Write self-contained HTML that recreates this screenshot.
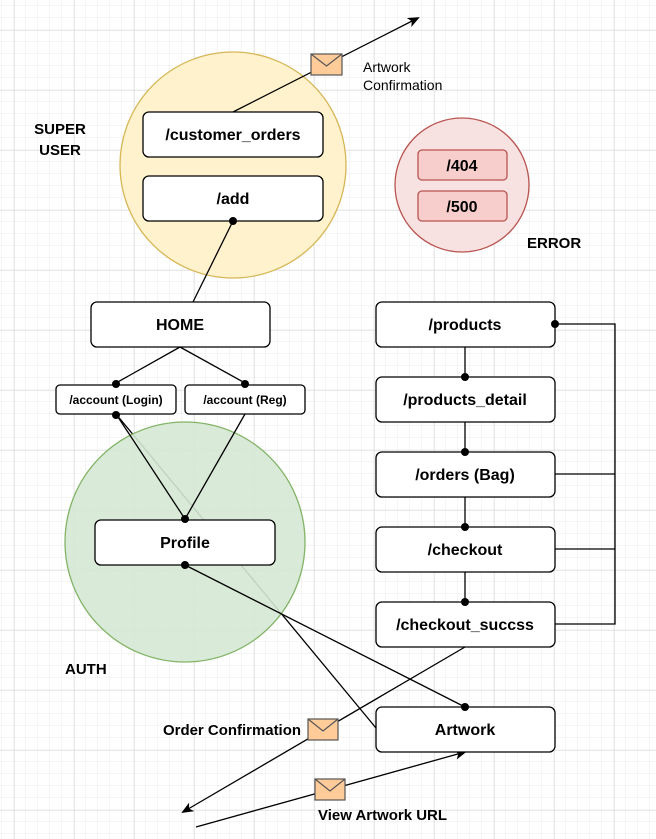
<!DOCTYPE html>
<html><head><meta charset="utf-8"><style>
html,body{margin:0;padding:0;background:#fff}
svg{display:block}
text{font-family:"Liberation Sans",Arial,sans-serif}
</style></head><body>
<svg width="656" height="839" viewBox="0 0 656 839" xmlns="http://www.w3.org/2000/svg">
<defs>
<pattern id="minor" width="12" height="12" patternUnits="userSpaceOnUse" x="2" y="6">
<path d="M12 0V12M0 12H12" fill="none" stroke="#ebebeb" stroke-width="1"/>
</pattern>
<pattern id="major" width="60" height="60" patternUnits="userSpaceOnUse" x="14" y="30">
<path d="M0 0V60M0 0H60" fill="none" stroke="#d4d4d4" stroke-width="1"/>
</pattern>
<marker id="arr" markerWidth="12" markerHeight="10" refX="10" refY="5" orient="auto" markerUnits="userSpaceOnUse">
<path d="M0 0L12 5L0 10L3 5Z" fill="#000"/>
</marker>
</defs>
<rect width="656" height="839" fill="url(#minor)"/>
<rect width="656" height="839" fill="url(#major)"/>

<line x1="116" y1="414" x2="376" y2="728" stroke="#000" stroke-width="1.3"/>

<ellipse cx="233" cy="165" rx="113" ry="113" fill="#fff2cc" stroke="#d6b656" stroke-width="1.3"/>
<ellipse cx="462" cy="185" rx="67" ry="67" fill="#f8e1e1" stroke="#b85450" stroke-width="1.3"/>
<ellipse cx="185" cy="542" rx="120" ry="120" fill="#d5e8d4" fill-opacity="0.9" stroke="#82b366" stroke-width="1.3"/>

<g stroke="#000" stroke-width="1.3" fill="none">
<line x1="233" y1="112" x2="418" y2="18" marker-end="url(#arr)"/>
<line x1="233" y1="221" x2="193" y2="302"/>
<line x1="180" y1="347" x2="116" y2="383"/>
<line x1="180" y1="347" x2="245" y2="383"/>
<line x1="116" y1="414" x2="185" y2="519"/>
<line x1="245" y1="414" x2="185" y2="519"/>
<line x1="185" y1="565" x2="465" y2="707"/>
<line x1="465" y1="347" x2="465" y2="377"/>
<line x1="465" y1="422" x2="465" y2="452"/>
<line x1="465" y1="497" x2="465" y2="527"/>
<line x1="465" y1="572" x2="465" y2="602"/>
<polyline points="555,324 615,324 615,624 555,624"/>
<line x1="555" y1="474" x2="615" y2="474"/>
<line x1="555" y1="549" x2="615" y2="549"/>
<line x1="465" y1="647" x2="183" y2="812" marker-end="url(#arr)"/>
<line x1="196" y1="827" x2="465" y2="752" marker-end="url(#arr)"/>
</g>

<g fill="#fff" stroke="#000" stroke-width="1.3">
<rect x="143" y="112" width="180" height="45" rx="6"/>
<rect x="143" y="176" width="180" height="45" rx="6"/>
<rect x="91" y="302" width="179" height="45" rx="6"/>
<rect x="56" y="385" width="120" height="29" rx="4"/>
<rect x="185" y="385" width="120" height="29" rx="4"/>
<rect x="95" y="520" width="180" height="45" rx="6"/>
<rect x="376" y="302" width="179" height="45" rx="6"/>
<rect x="376" y="377" width="179" height="45" rx="6"/>
<rect x="376" y="452" width="179" height="45" rx="6"/>
<rect x="376" y="527" width="179" height="45" rx="6"/>
<rect x="376" y="602" width="179" height="45" rx="6"/>
<rect x="376" y="707" width="179" height="45" rx="6"/>
</g>
<g fill="#f8cecc" stroke="#b85450" stroke-width="1.3">
<rect x="418" y="150" width="89" height="30" rx="4"/>
<rect x="418" y="191" width="89" height="30" rx="4"/>
</g>

<g fill="#000">
<circle cx="233" cy="221" r="4"/>
<circle cx="116" cy="384" r="4"/><circle cx="245" cy="384" r="4"/>
<circle cx="116" cy="415" r="4"/>
<circle cx="185" cy="519" r="4"/><circle cx="185" cy="565" r="4"/>
<circle cx="555" cy="324" r="4"/>
<circle cx="465" cy="377" r="4"/><circle cx="465" cy="452" r="4"/>
<circle cx="465" cy="527" r="4"/><circle cx="465" cy="602" r="4"/>
<circle cx="465" cy="707" r="4"/>
</g>

<g stroke="#555" stroke-width="1.2">
<rect x="311" y="54" width="31" height="21" fill="#ffcc99"/>
<polyline points="311,54 326.5,66 342,54" fill="none"/>
<rect x="308" y="719" width="30" height="21" fill="#ffcc99"/>
<polyline points="308,719 323,731 338,719" fill="none"/>
<rect x="315" y="779" width="30" height="21" fill="#ffcc99"/>
<polyline points="315,779 330,791 345,779" fill="none"/>
</g>

<g font-weight="bold" font-size="16" text-anchor="middle" fill="#000">
<text x="233" y="140">/customer_orders</text>
<text x="233" y="204">/add</text>
<text x="180" y="330">HOME</text>
<text x="185" y="548">Profile</text>
<text x="465" y="330">/products</text>
<text x="465" y="405">/products_detail</text>
<text x="465" y="480">/orders (Bag)</text>
<text x="465" y="555">/checkout</text>
<text x="465" y="630">/checkout_succss</text>
<text x="465" y="735">Artwork</text>
<text x="462" y="171">/404</text>
<text x="462" y="212">/500</text>
</g>
<g font-weight="bold" font-size="12" text-anchor="middle">
<text x="116" y="404">/account (Login)</text>
<text x="245" y="404">/account (Reg)</text>
</g>
<g font-weight="bold" font-size="15">
<text x="60" y="134" text-anchor="middle">SUPER</text>
<text x="60" y="155" text-anchor="middle">USER</text>
<text x="527" y="248">ERROR</text>
<text x="65" y="674">AUTH</text>
</g>
<g font-size="14.5" font-weight="bold">
<text x="363" y="72" font-weight="normal" font-size="14">Artwork</text>
<text x="363" y="90" font-weight="normal" font-size="14">Confirmation</text>
<text x="301" y="735" text-anchor="end" textLength="138" lengthAdjust="spacingAndGlyphs">Order Confirmation</text>
<text x="318" y="820" textLength="129" lengthAdjust="spacingAndGlyphs">View Artwork URL</text>
</g>
</svg>
</body></html>
